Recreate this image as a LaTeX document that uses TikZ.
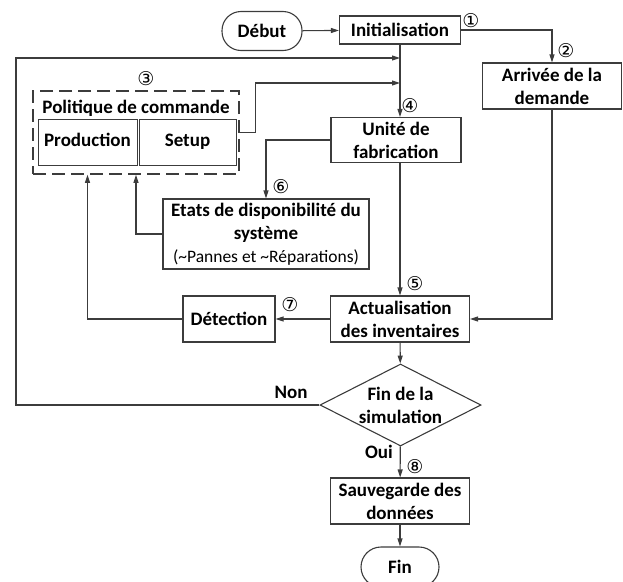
\documentclass[tikz,border=0pt]{standalone}
\usepackage{fontspec}
\setmainfont{Carlito}
\newfontfamily\circfont{DejaVu Sans}
\usetikzlibrary{positioning,arrows.meta,calc,shapes.geometric}
\definecolor{linec}{RGB}{60,60,60}
\tikzset{
  box/.style={draw=linec, line width=1.1pt, align=center, inner sep=0pt,
    font=\bfseries\fontsize{19}{23}\selectfont},
  term/.style={box, rounded corners=19pt},
  sub/.style={draw=linec, line width=0.8pt, inner sep=0pt,
    text height=13pt, text depth=4pt,
    font=\bfseries\fontsize{19}{23}\selectfont},
  flow/.style={draw=linec, line width=1.1pt, -{Triangle[length=8pt,width=5pt]}},
  num/.style={font=\circfont\fontsize{19}{19}\selectfont, inner sep=0pt},
  ans/.style={font=\bfseries\fontsize{19}{23}\selectfont, inner sep=0pt},
}

\begin{document}
\begin{tikzpicture}[x=1pt,y=-1pt]
\useasboundingbox (0,0) rectangle (623,581);

% ------------------------------------------------- start / init / demand
\node[term, minimum width=80pt, minimum height=39pt] (debut) at (262,31) {Début};
\node[box, minimum width=121pt, minimum height=28pt] (init) at (400,30) {Initialisation};
\node[box, minimum width=139pt, minimum height=46pt] (arrivee) at (552,86)
  {Arrivée de la\\ demande};
\node[num] (n1) at (471,21) {①};
\node[num] (n2) at (566,51) {②};

% ------------------------------------------------- control policy
\node[draw=linec, line width=1.6pt, dash pattern=on 13pt off 6pt,
  minimum width=206pt, minimum height=83pt] (politique) at (136,132.5) {};
\node[ans] (politiquetitle) at (136,108) {Politique de commande};
\node[sub, minimum width=99pt, minimum height=46pt] (production) at (87.5,142) {Production};
\node[sub, minimum width=97pt, minimum height=46pt] (setup) at (187.5,142) {Setup};
\node[num] (n3) at (146,79) {③};

% ------------------------------------------------- manufacturing
\node[box, minimum width=130pt, minimum height=45pt] (unite) at (396,140)
  {Unité de\\ fabrication};
\node[num] (n4) at (410,106) {④};
\node[box, minimum width=206pt, minimum height=70pt] (etats) at (266,234)
  {Etats de disponibilité du\\ système\\
   {\mdseries\fontsize{17.5}{22}\selectfont(\textasciitilde Pannes et \textasciitilde Réparations)}};
\node[num] (n6) at (281,187) {⑥};

% ------------------------------------------------- inventories
\node[box, minimum width=139pt, minimum height=46pt] (actual) at (400,319)
  {Actualisation\\ des inventaires};
\node[num] (n5) at (415,284) {⑤};
\node[box, minimum width=92pt, minimum height=46pt] (detect) at (229,319) {Détection};
\node[num] (n7) at (290,305) {⑦};

% ------------------------------------------------- end of simulation
\node[box, diamond, aspect=1.96, minimum width=161pt, minimum height=82pt,
  inner sep=-6pt] (test) at (400.5,405) {Fin de la\\ simulation};
\node[ans] (non) at (291,392) {Non};
\node[ans] (oui) at (379,452) {Oui};
\node[num] (n8) at (415,467) {⑧};
\node[box, minimum width=139pt, minimum height=46pt] (sauve) at (400,501)
  {Sauvegarde des\\ données};
\node[term, minimum width=78pt, minimum height=40pt, rounded corners=20pt] (fin)
  at (400,567) {Fin};

% ------------------------------------------------- connectors
\coordinate (loopcorner) at (16,58);
\coordinate (loopin) at (init.south |- 0,58);
\coordinate (setupin) at (init.south |- 0,83);

\draw[flow] (debut) -- (init);
\draw[flow] (init.east) -| (arrivee.north);
\draw[flow] (init.south) -- (init.south |- unite.north);
\draw[flow] (test.west) -| (loopcorner) -- (loopin);
\draw[flow] (politique.east) -- ++(16,0) |- (setupin);
\draw[flow] (unite.west) -| (etats.north);
\draw[flow] (actual.north |- unite.south) -- (actual.north);
\draw[flow] (arrivee.south) |- (actual.east);
\draw[flow] (actual.west) -- (detect.east);
\draw[flow] (detect.west) -| (production.south |- politique.south);
\draw[flow] (etats.west) -| (politique.south);
\draw[flow] (actual) -- (test);
\draw[flow] (test) -- (sauve);
\draw[flow] (sauve) -- (fin);

\end{tikzpicture}
\end{document}
